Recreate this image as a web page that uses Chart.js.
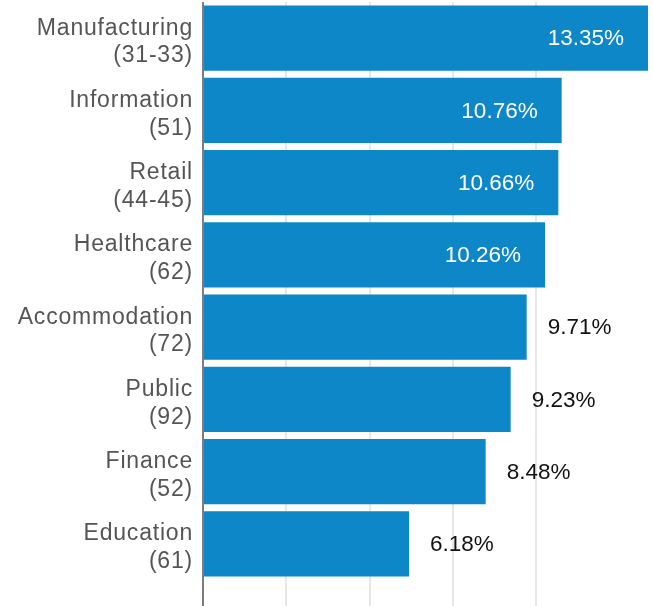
<!DOCTYPE html>
<html>
<head>
<meta charset="utf-8">
<script src="https://cdn.jsdelivr.net/npm/chart.js@4"></script>
<style>
body{margin:0;background:#fff;}
</style>
</head>
<body>
<canvas id="sectorChart" width="653" height="606"></canvas>
<script>
// Share by sector (NAICS code in brackets)

const categories = [
["Manufacturing","(31-33)"],
["Information","(51)"],
["Retail","(44-45)"],
["Healthcare","(62)"],
["Accommodation","(72)"],
["Public","(92)"],
["Finance","(52)"],
["Education","(61)"]
];

const shares = [13.35, 10.76, 10.66, 10.26, 9.71, 9.23, 8.48, 6.18];

const tickStep = 2.5;
const axisMax = 13.5;
const insideFrom = 10;

const FONT = "'Liberation Sans', Arial, sans-serif";

// wider tracking for the category names
const tracking = {
id:'tracking',
beforeDraw(chart){ chart.ctx.letterSpacing = "0.8px"; }
};

// value labels next to / inside each bar
const barLabels = {
id:'barLabels',
afterDatasetsDraw(chart){
const ctx = chart.ctx;
const meta = chart.getDatasetMeta(0);
ctx.save();
ctx.letterSpacing = "0px";
ctx.font = "22.5px " + FONT;
ctx.textBaseline = "middle";
meta.data.forEach(function(bar, i){
const v = shares[i];
const txt = v.toFixed(2) + "%";
if(v >= insideFrom){
ctx.fillStyle = "#ffffff";
ctx.textAlign = "right";
ctx.fillText(txt, bar.x - 24, bar.y + 1);
}else{
ctx.fillStyle = "#111111";
ctx.textAlign = "left";
ctx.fillText(txt, bar.x + 21, bar.y + 1);
}
});
ctx.restore();
}
};

new Chart(document.getElementById('sectorChart'),{
type:'bar',
data:{
labels:categories,
datasets:[{
data:shares,
backgroundColor:"#0e87c8",
borderWidth:0,
categoryPercentage:0.9,
barPercentage:1
}]
},
options:{
indexAxis:'y',
responsive:false,
animation:false,
layout:{padding:{top:2,right:0,left:0,bottom:0}},
plugins:{
legend:{display:false},
tooltip:{enabled:false}
},
scales:{
x:{
min:0,
max:axisMax,
ticks:{display:false,stepSize:tickStep},
border:{display:false},
grid:{
drawTicks:true,
tickLength:26,
color:function(c){
if(c.tick.value === 0) return "#7d7d7d";
if(c.tick.value % tickStep !== 0) return "rgba(0,0,0,0)";
return "#e6e6e6";
},
lineWidth:2
},
afterFit:function(scale){ scale.paddingLeft = 0; scale.paddingRight = 0; }
},
y:{
border:{display:false},
grid:{display:false,drawTicks:false},
ticks:{
color:"#555555",
padding:10,
labelOffset:4,
font:{family:FONT,size:23,lineHeight:1.2}
},
afterFit:function(scale){
scale.width = 203;
scale.paddingTop = 0;
scale.paddingBottom = 0;
}
}
}
},
plugins:[tracking, barLabels]
});
</script>
</body>
</html>
